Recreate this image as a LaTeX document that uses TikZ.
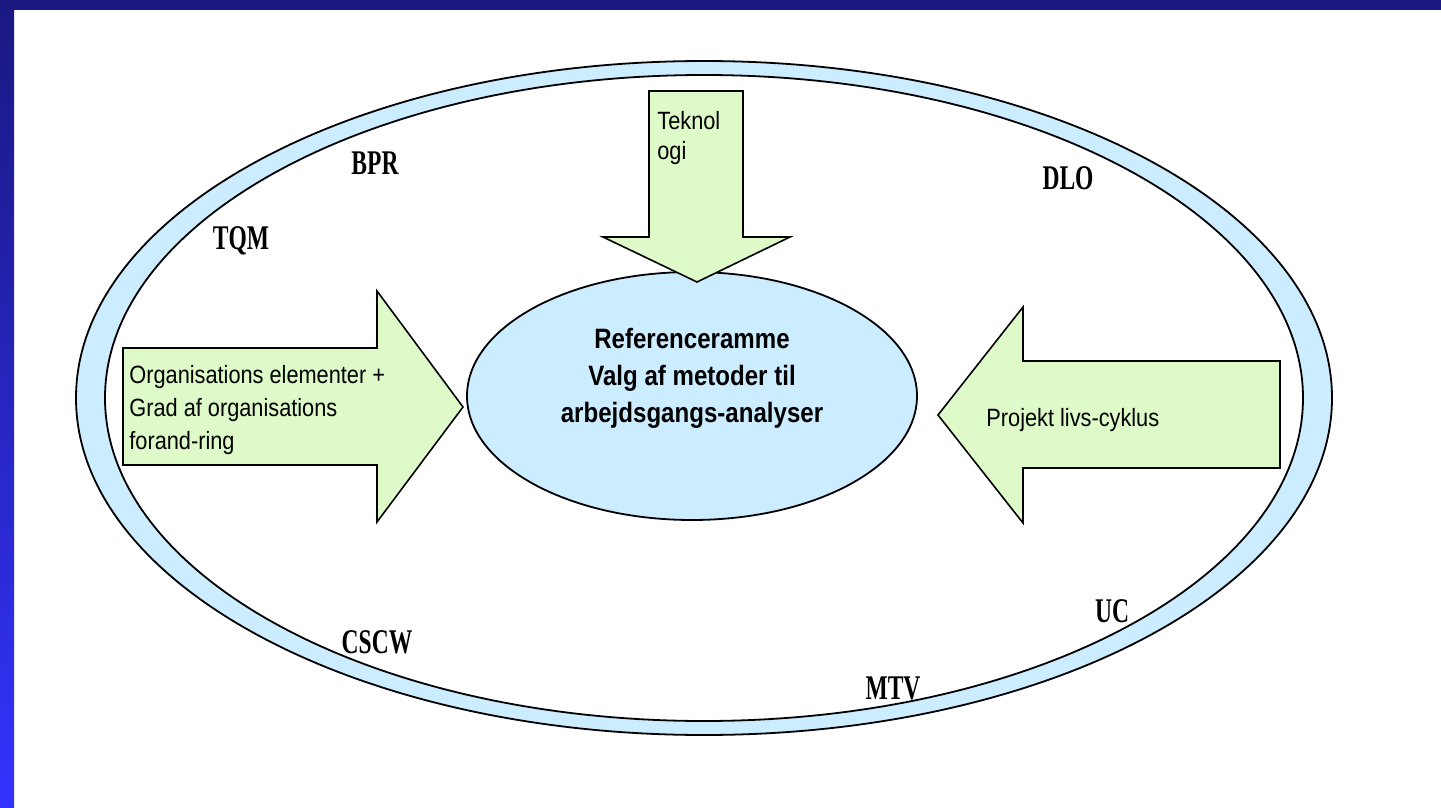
\documentclass[tikz,border=0pt]{standalone}
\usepackage{fontspec}
\setmainfont{Liberation Serif}
\newfontfamily\boxfont[FakeStretch=0.87]{Liberation Sans}
\newfontfamily\centerfont[FakeStretch=0.86]{Liberation Sans}
\newfontfamily\labelfont[FakeStretch=0.68]{Liberation Serif}
\usetikzlibrary{shapes.geometric, positioning}
\definecolor{ringblue}{RGB}{204,236,255}
\definecolor{arrowgreen}{RGB}{221,250,200}
\definecolor{frametop}{RGB}{26,24,128}
\definecolor{framebottom}{RGB}{51,51,255}
\tikzstyle{blockarrow} = [draw=black, line width=0.8pt, fill=arrowgreen, line join=miter]
\tikzstyle{ringline} = [draw=black, line width=0.9pt]
\tikzstyle{method} = [font=\labelfont\bfseries\fontsize{17.3}{20}\selectfont, inner sep=0pt]
\tikzstyle{arrowtext} = [font=\boxfont\fontsize{12.5}{16.5}\selectfont, align=left, inner sep=0pt, anchor=west]

\begin{document}
\begin{tikzpicture}[x=0.5pt,y=-0.5pt]
		\useasboundingbox (0,0) rectangle (1441,808);
		\fill[white] (0,0) rectangle (1441,808);
		\shade[top color=frametop, bottom color=framebottom] (0,0) rectangle (14,808);
		\fill[frametop] (0,0) rectangle (1441,10);
		% outer ring
		\coordinate (ringc) at (704,398);
		\fill[ringblue, even odd rule] (ringc) ellipse [x radius=314pt, y radius=168.5pt]
		    (ringc) ellipse [x radius=299.5pt, y radius=161.5pt];
		\draw[ringline] (ringc) ellipse [x radius=314pt, y radius=168.5pt];
		\draw[ringline] (ringc) ellipse [x radius=299.5pt, y radius=161.5pt];
		% centre
		\node[ellipse, ringline, fill=ringblue, minimum width=225pt, minimum height=124pt](ctr) at (692,396) {};
		\node[font=\centerfont\bfseries\fontsize{14}{18.5}\selectfont, align=center, inner sep=0pt](ctrtext)
		    at ([yshift=9pt]ctr.center) {Referenceramme\\Valg af metoder til\\arbejdsgangs-analyser};
		% block arrows
		\draw[blockarrow] (123,348) -- (377,348) -- (377,291) -- (463,407) -- (377,522) -- (377,465) -- (123,465) -- cycle;
		\draw[blockarrow] (649,91) -- (743,91) -- (743,237) -- (790,237) -- (697,282) -- (603,237) -- (649,237) -- cycle;
		\draw[blockarrow] (1280,361) -- (1023,361) -- (1023,307) -- (938,415) -- (1023,523) -- (1023,468) -- (1280,468) -- cycle;
		\node[arrowtext](orgtext) at (129,410) {Organisations elementer +\\Grad af organisations\\forand-ring};
		\node[arrowtext, font=\boxfont\fontsize{12.5}{15}\selectfont](tektext) at (657,138) {Teknol\\ogi};
		\node[arrowtext](projtext) at (986,420) {Projekt livs-cyklus};
		% methods round the ring
		\node[method](bpr) at (375,163) {BPR};
		\node[method](dlo) at (1068,178) {DLO};
		\node[method](tqm) at (241,241) {TQM};
		\node[method](cscw) at (377,642) {CSCW};
		\node[method](mtv) at (893,688) {MTV};
		\node[method](uc) at (1112,611) {UC};
\end{tikzpicture}
\end{document}
